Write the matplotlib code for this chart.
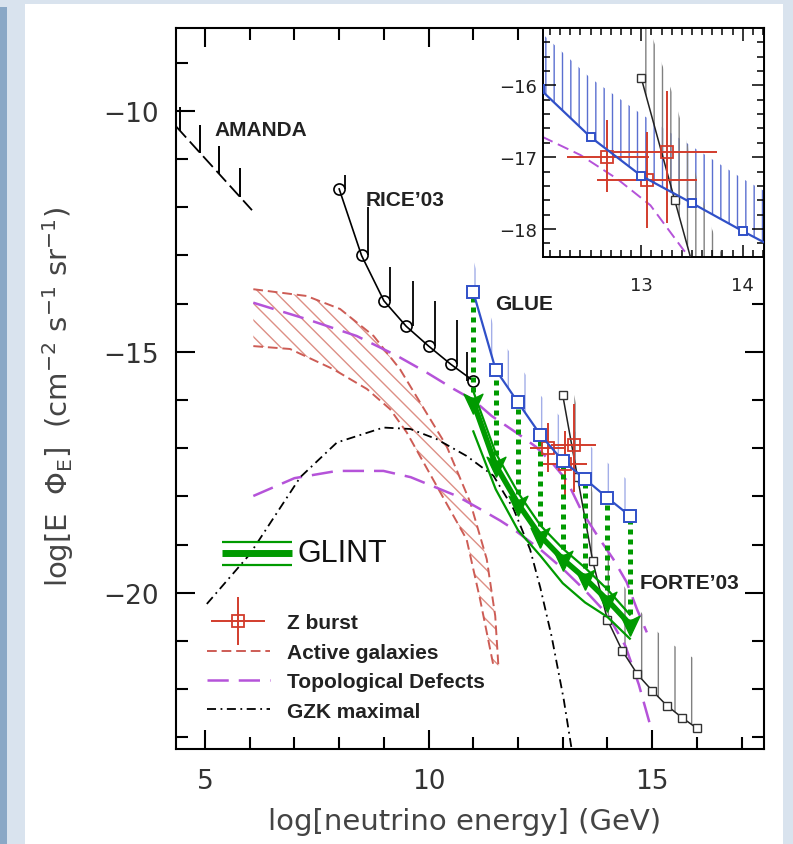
import numpy as np
import matplotlib.pyplot as plt
from matplotlib.patches import Rectangle
from matplotlib.container import ErrorbarContainer
from matplotlib.legend_handler import HandlerErrorbar
from matplotlib.ticker import MultipleLocator

plt.rcParams['font.family'] = ['DejaVu Sans']
plt.rcParams['hatch.linewidth'] = 1.0

# AMANDA limits (bar bottoms / tops) and its dashed line
amanda_x = [4.44, 4.89, 5.31, 5.78]
amanda_y = [-10.42, -10.88, -11.31, -11.79]
amanda_top = [-9.92, -10.30, -10.73, -11.19]
amanda_line_x = [4.36, 6.05]
amanda_line_y = [-10.33, -12.06]

# RICE'03
rice_x = [8.0, 8.5, 9.0, 9.5, 10.0, 10.5, 11.0]
rice_y = [-11.62, -13.0, -13.94, -14.47, -14.88, -15.26, -15.6]
rice_top = [-11.32, -12.0, -13.24, -13.52, -13.95, -14.33, -15.0]

# GLUE and its band
glue_x = [11.0, 11.5, 12.0, 12.5, 13.0, 13.5, 14.0, 14.5]
glue_y = [-13.76, -15.37, -16.05, -16.72, -17.26, -17.64, -18.03, -18.40]
glue_top = [-13.1, -14.6, -15.25, -15.9, -16.4, -16.85, -17.3, -17.7]

# GLINT (same energies as GLUE)
glint_mid = [-16.05, -17.35, -18.15, -18.82, -19.3, -19.7, -20.15, -20.65]
glint_hi = [-15.82, -17.1, -17.92, -18.6, -19.08, -19.48, -19.93, -20.45]
glint_lo = [-16.65, -17.85, -18.7, -19.23, -19.8, -20.2, -20.5, -20.95]

# FORTE'03 and its band
forte_x = [13.0, 13.33, 13.67, 14.0, 14.33, 14.67, 15.0, 15.33, 15.67, 16.0]
forte_y = [-15.9, -17.6, -19.34, -20.56, -21.2, -21.69, -22.03, -22.34, -22.59, -22.81]
forte_top = [-14.9, -16.2, -17.9, -19.1, -19.8, -20.3, -20.7, -21.0, -21.2, -21.4]

# Z burst
zb_x = [12.66, 13.06, 13.25]
zb_y = [-17.0, -17.32, -16.93]
zb_xlo = [0.39, 0.50, 0.52]
zb_xhi = [0.42, 0.49, 0.50]
zb_ylo = [0.49, 0.66, 0.98]
zb_yhi = [0.52, 0.67, 0.85]

# Active galaxies band edges
agn_hi_x = [6.08, 7.27, 8.02, 8.77, 9.36, 9.81, 10.4, 10.93, 11.3, 11.49, 11.56]
agn_hi_y = [-13.7, -13.84, -14.11, -14.67, -15.36, -16.05, -16.95, -18.12, -19.3, -20.48, -21.51]
agn_lo_x = [6.08, 6.9, 7.87, 8.62, 9.14, 9.51, 10.18, 10.85, 11.15, 11.45]
agn_lo_y = [-14.88, -14.94, -15.36, -15.77, -16.19, -16.67, -17.78, -18.89, -20.13, -21.51]

# Topological defects
td_hi_x = [6.08, 7.27, 8.39, 9.29, 9.96, 10.56, 11.0, 11.41, 12.0, 12.4, 12.76,
           13.09, 13.42, 13.8, 14.13, 14.43, 14.66, 14.88]
td_hi_y = [-13.98, -14.32, -14.67, -15.08, -15.43, -15.77, -16.0, -16.33, -16.7,
           -16.97, -17.3, -17.67, -18.3, -18.85, -19.3, -19.78, -20.34, -20.82]
td_lo_x = [6.08, 7.0, 7.95, 8.99, 9.6, 10.63, 11.15, 11.6, 11.9, 12.5, 13.0, 13.5,
           14.0, 14.4, 14.7, 14.96]
td_lo_y = [-17.99, -17.62, -17.47, -17.47, -17.6, -17.99, -18.26, -18.5, -18.68,
           -19.1, -19.5, -19.95, -20.45, -21.1, -21.9, -22.76]

# GZK maximal
gzk_x = [5.04, 6.0, 6.6, 7.13, 7.95, 8.99, 9.59, 10.18, 10.85, 11.45, 11.9, 12.27,
         12.5, 12.75, 13.02, 13.2]
gzk_y = [-20.23, -19.2, -18.35, -17.6, -16.88, -16.57, -16.6, -16.81, -17.16, -17.57,
         -18.26, -19.1, -19.9, -20.9, -22.2, -23.25]

red = '#d23c2c'
agn_c = '#cd5c55'
purple = '#b553d9'
blue = '#3050c8'
green = '#009a00'
BOLD = dict(family='Liberation Sans', fontweight='bold', fontsize=15, color='#222222')

fig = plt.figure(figsize=(7.93, 8.45), dpi=100, facecolor='#d9e3ee')
fig.add_artist(Rectangle((25 / 793, 0), 758 / 793, 1 - 5 / 845, transform=fig.transFigure,
                         facecolor='white', edgecolor='none', zorder=-10))
fig.add_artist(Rectangle((0, 0), 7 / 793, 1 - 8 / 845, transform=fig.transFigure,
                         facecolor='#8aa8c6', edgecolor='none', zorder=-9))

ax = fig.add_axes([0.2219, 0.1124, 0.7415, 0.8533])

# active galaxies hatched band
ax.fill(np.concatenate([agn_hi_x, agn_lo_x[::-1]]), np.concatenate([agn_hi_y, agn_lo_y[::-1]]),
        fill=False, hatch='\\\\', edgecolor='#dd8f85', linewidth=0, zorder=1)
agn_line, = ax.plot(agn_hi_x, agn_hi_y, color=agn_c, lw=1.4, ls=(0, (5, 2.5)), zorder=2)
ax.plot(agn_lo_x, agn_lo_y, color=agn_c, lw=1.4, ls=(0, (5, 2.5)), zorder=2)

# topological defects
td_line, = ax.plot(td_hi_x, td_hi_y, color=purple, lw=1.8, ls=(0, (8.5, 4)), zorder=2)
ax.plot(td_lo_x, td_lo_y, color=purple, lw=1.8, ls=(0, (8.5, 4)), zorder=2)

# GZK
gzk_line, = ax.plot(gzk_x, gzk_y, color='k', lw=1.3, ls=(0, (5, 2.5, 1, 2.5)), zorder=2)

# AMANDA
ax.plot(amanda_line_x, amanda_line_y, color='k', lw=1.3, ls=(0, (8, 3)), zorder=3)
ax.vlines(amanda_x, amanda_y, amanda_top, color='k', lw=1.4, zorder=3)

# RICE
ax.plot(rice_x, rice_y, color='k', lw=1.2, marker='o', ms=8, mfc='none', mec='k',
        mew=1.2, zorder=4)
bar_x = np.array(rice_x) + 0.14
bar_x[-1] = rice_x[-1] - 0.14
ax.vlines(bar_x, rice_y, rice_top, color='k', lw=1.3, zorder=4)


def draw_shared(a, ms_glue, ms_forte, hatch, blue_hatch):
    a.fill_between(glue_x, glue_y, glue_top, facecolor='none', edgecolor=blue_hatch,
                   hatch=hatch, linewidth=0, zorder=1)
    a.fill_between(forte_x, forte_y, forte_top, facecolor='none', edgecolor='#808080',
                   hatch=hatch, linewidth=0, zorder=1)
    a.plot(forte_x, forte_y, color='#222222', lw=1.1, marker='s', ms=ms_forte,
           mfc='white', mec='#333333', mew=1.0, zorder=4)
    a.plot(glue_x, glue_y, color=blue, lw=1.6, marker='s', ms=ms_glue, mfc='white',
           mec=blue, mew=1.4, zorder=8)
    return a.errorbar(zb_x, zb_y, xerr=[zb_xlo, zb_xhi], yerr=[zb_ylo, zb_yhi], fmt='s',
                      ms=8, mfc='none', mec=red, mew=1.3, color=red, ecolor=red,
                      elinewidth=1.4, capsize=0, zorder=6)


zb = draw_shared(ax, 8, 6, '|', '#a3aee8')

# GLINT
ax.vlines(glue_x, glint_mid, glue_y, color=green, lw=3.6, linestyles=(0, (1, 1)), zorder=6)
ax.plot(glue_x, glint_mid, color=green, lw=4.0, zorder=7, solid_capstyle='butt')
ax.plot(glue_x, glint_hi, color=green, lw=1.6, zorder=7)
ax.plot(glue_x, glint_lo, color=green, lw=1.6, zorder=7)
arrow = [(0, -1), (-0.8, 0.7), (0, 0.3), (0.8, 0.7), (0, -1)]
ax.plot(glue_x, glint_mid, ls='none', marker=arrow, ms=17, color=green, mec=green, zorder=7)

# labels in the plot
ax.text(5.22, -10.38, 'AMANDA', va='center', **BOLD)
ax.text(8.6, -11.84, 'RICE\u201903', va='center', **BOLD)
ax.text(11.49, -13.99, 'GLUE', va='center', **BOLD)
ax.text(14.73, -19.78, 'FORTE\u201903', va='center', **BOLD)

# GLINT legend key
for yy, lw in [(0.287, 1.6), (0.272, 5.0), (0.255, 1.6)]:
    ax.plot([0.078, 0.197], [yy, yy], transform=ax.transAxes, color=green, lw=lw,
            solid_capstyle='butt')
ax.text(0.2075, 0.272, 'GLINT', transform=ax.transAxes, fontsize=22,
        family='Liberation Sans', va='center', color='#111111')

leg = ax.legend(handles=[zb, agn_line, td_line, gzk_line],
                labels=['Z burst', 'Active galaxies', 'Topological Defects', 'GZK maximal'],
                loc='upper left', bbox_to_anchor=(0.053, 0.188), frameon=False,
                prop=dict(family='Liberation Sans', weight='bold', size=15),
                handlelength=3.0, handletextpad=0.85, labelspacing=0.5,
                borderpad=0, borderaxespad=0,
                handler_map={ErrorbarContainer: HandlerErrorbar(xerr_size=1.3, yerr_size=1.15)})
for t in leg.get_texts():
    t.set_color('#222222')

ax.set_xlim(4.35, 17.5)
ax.set_ylim(-23.24, -8.28)
ax.xaxis.set_major_locator(MultipleLocator(5))
ax.xaxis.set_minor_locator(MultipleLocator(1))
ax.yaxis.set_major_locator(MultipleLocator(5))
ax.yaxis.set_minor_locator(MultipleLocator(1))
ax.tick_params(which='both', direction='in', top=True, right=True, width=1.5,
               labelsize=19, labelcolor='#333333')
ax.tick_params(which='major', length=14)
ax.tick_params(which='minor', length=8.5)
ax.tick_params(axis='x', pad=14)
ax.tick_params(axis='y', pad=12)
for s in ax.spines.values():
    s.set_linewidth(1.5)
ax.set_xlabel('log[neutrino energy] (GeV)', fontsize=21, color='#444444')
ax.set_ylabel(r'log[E  $\Phi_{\rm E}$]  (cm$^{-2}$ s$^{-1}$ sr$^{-1}$)', fontsize=21,
              color='#444444')
ax.xaxis.set_label_coords(0.49, -0.08)
ax.yaxis.set_label_coords(-0.17, 0.49)

# inset
axin = fig.add_axes([0.6847, 0.6947, 0.9634 - 0.6847, 0.9657 - 0.6947])
axin.set_facecolor('white')
draw_shared(axin, 6, 6, '||', '#5a6fd0')
axin.plot(td_hi_x, td_hi_y, color=purple, lw=1.4, ls=(0, (6, 3)), zorder=2)
axin.set_xlim(12.03, 14.21)
axin.set_ylim(-18.39, -15.2)
axin.xaxis.set_major_locator(MultipleLocator(1))
axin.xaxis.set_minor_locator(MultipleLocator(0.1))
axin.yaxis.set_major_locator(MultipleLocator(1))
axin.yaxis.set_minor_locator(MultipleLocator(0.2))
axin.tick_params(which='both', direction='in', top=True, right=True, width=1.1,
                 labelsize=13, labelcolor='#222222')
axin.tick_params(which='major', length=9)
axin.tick_params(which='minor', length=5)
axin.tick_params(axis='x', pad=14)
axin.tick_params(axis='y', pad=4)
for s in axin.spines.values():
    s.set_linewidth(1.4)

fig.savefig('out.png', dpi=100, facecolor=fig.get_facecolor())
